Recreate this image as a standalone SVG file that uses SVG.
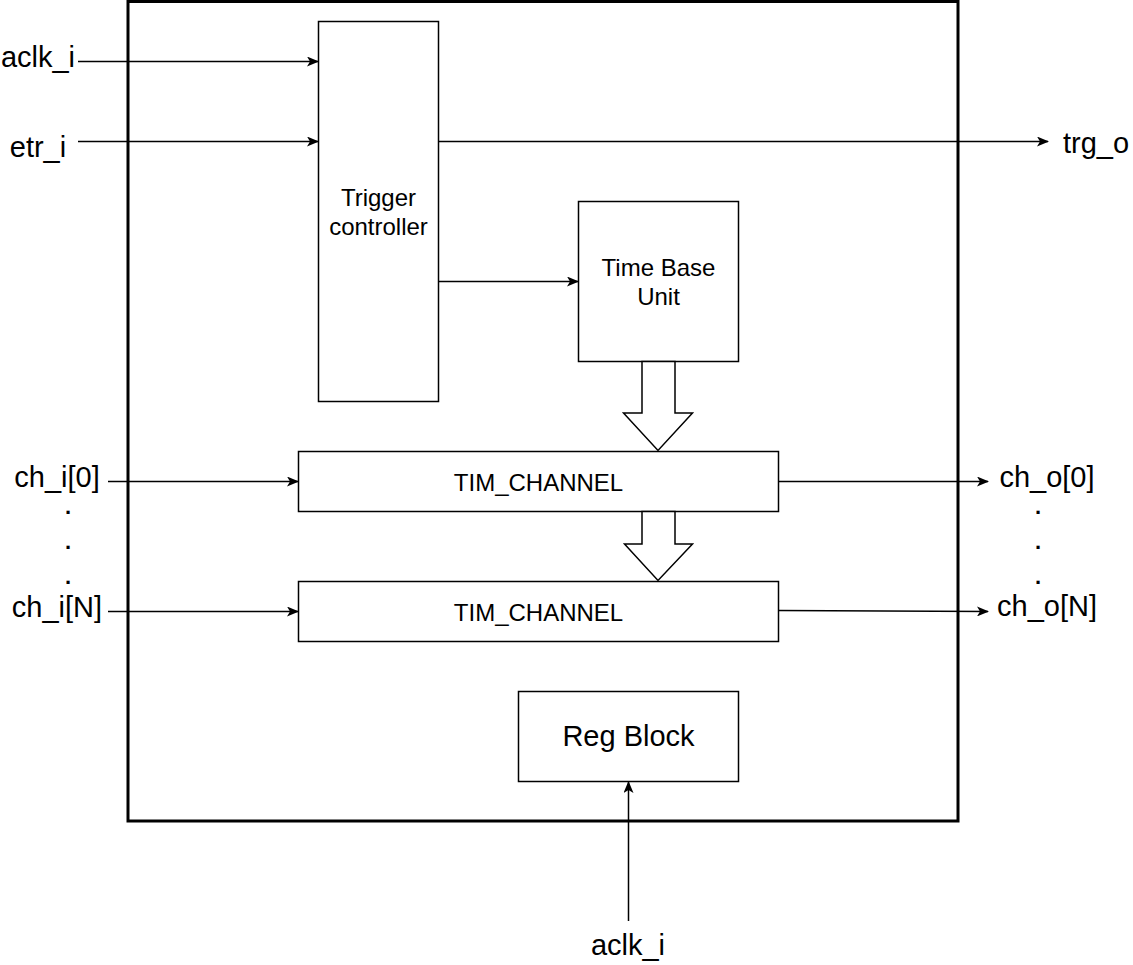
<svg xmlns="http://www.w3.org/2000/svg" width="1133" height="965" viewBox="0 0 1133 965">
<style>
.box{fill:#fff;stroke:#000;stroke-width:1.5}
.frame{fill:none;stroke:#000;stroke-width:3}
.ln{fill:none;stroke:#000;stroke-width:1.5}
.big{font-family:"Liberation Sans",Arial,sans-serif;font-size:29px;fill:#000}
.sm{font-family:"Liberation Sans",Arial,sans-serif;font-size:24px;fill:#000}
.dot{font-family:"Liberation Sans",Arial,sans-serif;font-size:22px;font-weight:bold;fill:#000}
.blk{fill:#fff;stroke:#000;stroke-width:1.5;stroke-linejoin:miter}
</style>
<defs>
<marker id="arr" viewBox="0 0 12 10" refX="11" refY="5" markerWidth="12" markerHeight="10" markerUnits="userSpaceOnUse" orient="auto">
<path d="M0,0 L12,5 L0,10 L3,5 Z" fill="#000"/>
</marker>
</defs>
<rect width="1133" height="965" fill="#fff"/>
<g id="frame"><rect class="frame" x="128" y="1.5" width="830" height="819.5"/></g>
<g id="trigger"><rect class="box" x="318.5" y="21.5" width="120" height="380"/>
<text class="sm" x="378.5" y="206" text-anchor="middle">Trigger</text>
<text class="sm" x="378.5" y="235" text-anchor="middle">controller</text></g>
<g id="timebase"><rect class="box" x="578.5" y="201.5" width="160" height="160"/>
<text class="sm" x="658.5" y="276" text-anchor="middle">Time Base</text>
<text class="sm" x="658.5" y="305" text-anchor="middle">Unit</text></g>
<g id="ch0"><rect class="box" x="298.5" y="451.5" width="480" height="60"/>
<text class="sm" x="538.5" y="491" text-anchor="middle">TIM_CHANNEL</text></g>
<g id="chN"><rect class="box" x="298.5" y="581.5" width="480" height="60"/>
<text class="sm" x="538.5" y="621" text-anchor="middle">TIM_CHANNEL</text></g>
<g id="regblock"><rect class="box" x="518.5" y="691.5" width="220" height="90"/>
<text class="big" x="628.5" y="746" text-anchor="middle">Reg Block</text></g>
<g id="labels">
<text class="big" x="38" y="67" text-anchor="middle">aclk_i</text>
<text class="big" x="38" y="157" text-anchor="middle">etr_i</text>
<text class="big" x="1063" y="153">trg_o</text>
<text class="big" x="57" y="487" text-anchor="middle">ch_i[0]</text>
<text class="dot" x="68" y="514" text-anchor="middle">.</text>
<text class="dot" x="68" y="549" text-anchor="middle">.</text>
<text class="dot" x="68" y="584" text-anchor="middle">.</text>
<text class="big" x="57" y="617" text-anchor="middle">ch_i[N]</text>
<text class="big" x="1047" y="487" text-anchor="middle">ch_o[0]</text>
<text class="dot" x="1038" y="514" text-anchor="middle">.</text>
<text class="dot" x="1038" y="549" text-anchor="middle">.</text>
<text class="dot" x="1038" y="584" text-anchor="middle">.</text>
<text class="big" x="1047" y="616" text-anchor="middle">ch_o[N]</text>
<text class="big" x="628" y="955" text-anchor="middle">aclk_i</text>
</g>
<g id="connectors">
<line class="ln" x1="78" y1="61.5" x2="318" y2="61.5" marker-end="url(#arr)"/>
<line class="ln" x1="78" y1="141.5" x2="318" y2="141.5" marker-end="url(#arr)"/>
<line class="ln" x1="438.5" y1="141.5" x2="1048" y2="141.5" marker-end="url(#arr)"/>
<line class="ln" x1="438.5" y1="281.5" x2="578" y2="281.5" marker-end="url(#arr)"/>
<line class="ln" x1="108" y1="481.5" x2="298" y2="481.5" marker-end="url(#arr)"/>
<line class="ln" x1="108" y1="611.5" x2="298" y2="611.5" marker-end="url(#arr)"/>
<line class="ln" x1="778.5" y1="481.5" x2="988" y2="481.5" marker-end="url(#arr)"/>
<line class="ln" x1="778.5" y1="610.5" x2="988" y2="611.5" marker-end="url(#arr)"/>
<line class="ln" x1="628.5" y1="921" x2="628.5" y2="782" marker-end="url(#arr)"/>
<polygon class="blk" points="642,361.5 642,413 623.5,413 658,450.5 692.5,413 675,413 675,361.5"/>
<polygon class="blk" points="642,511.5 642,544 624.5,544 658,580.5 692.5,544 675,544 675,511.5"/>
</g>
</svg>
